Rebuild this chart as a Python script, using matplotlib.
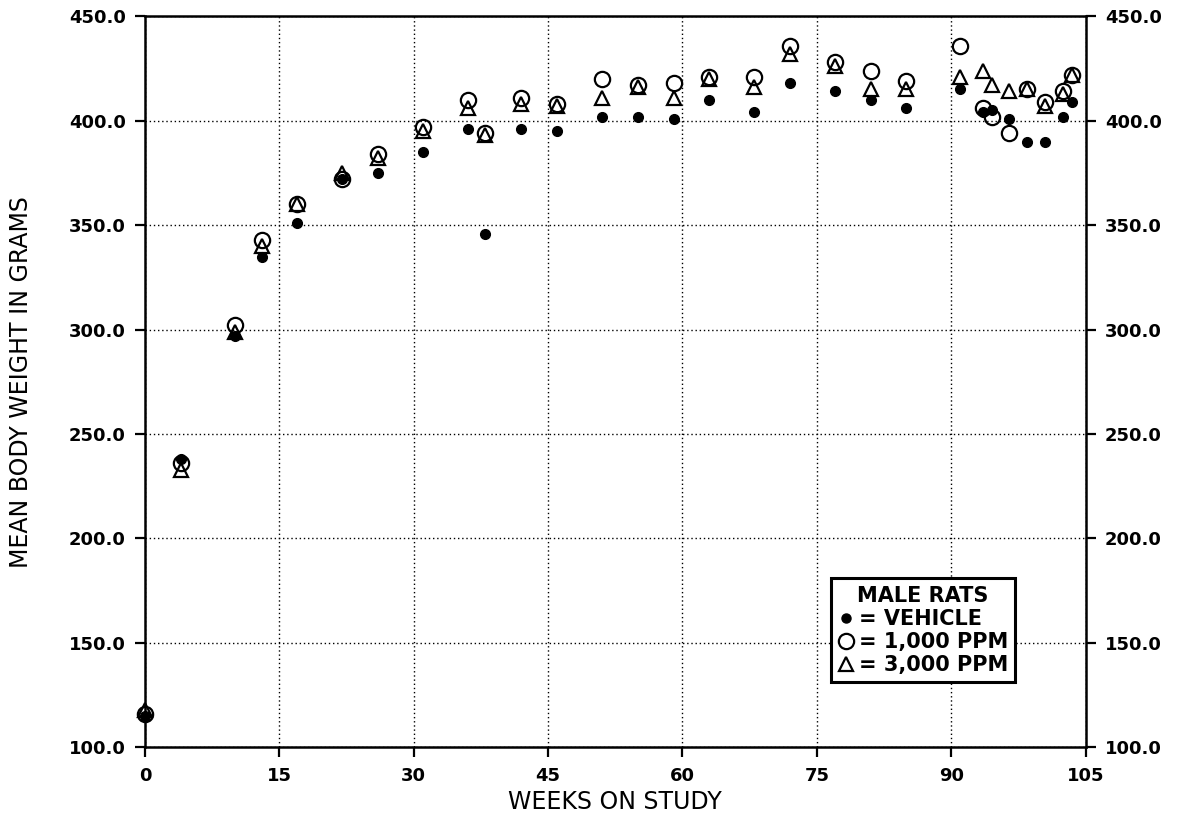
import numpy as np
import matplotlib.pyplot as plt
from matplotlib.lines import Line2D

# weeks on study and mean body weights (g)
weeks    = [0, 4, 10, 13, 17, 22, 26, 31, 36, 38, 42, 46, 51, 55, 59, 63, 68, 72, 77,
            81, 85, 91, 93.5, 94.5, 96.5, 98.5, 100.5, 102.5, 103.5]
vehicle  = [115, 238, 297, 335, 351, 372, 375, 385, 396, 346, 396, 395, 402, 402, 401,
            410, 404, 418, 414, 410, 406, 415, 404, 405, 401, 390, 390, 402, 409]
ppm_1000 = [116, 236, 302, 343, 360, 372, 384, 397, 410, 394, 411, 408, 420, 417, 418,
            421, 421, 436, 428, 424, 419, 436, 406, 402, 394, 415, 409, 414, 422]
ppm_3000 = [118, 233, 299, 340, 360, 375, 382, 395, 406, 393, 408, 407, 411, 416, 411,
            420, 416, 432, 426, 415, 415, 421, 424, 417, 414, 415, 407, 413, 422]

x_ticks = [0, 15, 30, 45, 60, 75, 90, 105]
y_ticks = [100, 150, 200, 250, 300, 350, 400, 450]

fig = plt.figure(figsize=(11.89, 8.15), dpi=100)
ax  = fig.add_axes([0.122, 0.083, 0.791, 0.897])

ax.plot(weeks, vehicle, 'o', ms=7, color='black', zorder=3, clip_on=False)
ax.plot(weeks, ppm_1000, 'o', ms=11, mfc='none', mec='black', mew=1.6, zorder=4, clip_on=False)
ax.plot(weeks, ppm_3000, '^', ms=10.5, mfc='none', mec='black', mew=1.6, zorder=4, clip_on=False)

ax.set_xlim(0, 105)
ax.set_ylim(100, 450)
ax.set_xticks(x_ticks)
ax.set_yticks(y_ticks)
ax.set_yticklabels(["%.1f" % v for v in y_ticks])
ax.grid(True, linestyle=(0, (1, 2)), color='black', linewidth=1.0)

for s in ax.spines.values():
    s.set_linewidth(1.8)
ax.tick_params(direction='out', length=7, width=1.6, labelsize=13, pad=7)
ax.tick_params(axis='y', right=True, labelright=True)
for lab in ax.get_xticklabels() + ax.get_yticklabels():
    lab.set_fontweight('bold')

ax.set_xlabel("WEEKS ON STUDY", fontsize=17, labelpad=4)
ax.set_ylabel("MEAN BODY WEIGHT IN GRAMS", fontsize=17, labelpad=26)

# legend box
handles = [Line2D([], [], ls='none', marker='o', ms=6.5, color='black'),
           Line2D([], [], ls='none', marker='o', ms=11, mfc='none', mec='black', mew=1.6),
           Line2D([], [], ls='none', marker='^', ms=10.5, mfc='none', mec='black', mew=1.6)]
labels  = ["= VEHICLE", "= 1,000 PPM", "= 3,000 PPM"]
leg = ax.legend(handles, labels, title="MALE RATS", loc='center',
                bbox_to_anchor=(0.827, 0.16), handlelength=0.8, handletextpad=0.2,
                labelspacing=0.15, borderpad=0.35, fancybox=False, framealpha=1,
                edgecolor='black', prop={'weight': 'bold', 'size': 15})
leg.get_title().set_fontweight('bold')
leg.get_title().set_fontsize(15)
leg.get_frame().set_linewidth(2.2)

fig.savefig("out.png", dpi=100)
